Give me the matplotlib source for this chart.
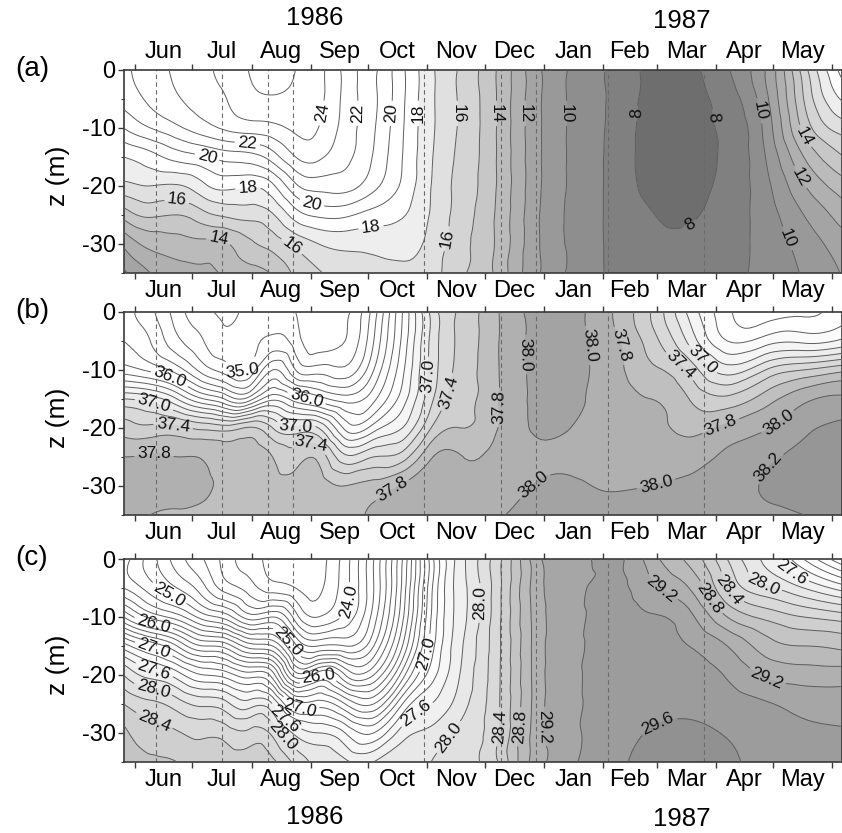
import numpy as np
import matplotlib
matplotlib.use('Agg')
import matplotlib.pyplot as plt
import matplotlib.tri as mtri

plt.rcParams['font.family'] = ['Liberation Sans', 'DejaVu Sans']
plt.rcParams['axes.unicode_minus'] = False

# ---------------- data ----------------
# time axis: days since 1986-06-01 ; depth axis: metres
days = [-6, 8, 22, 36, 48, 60, 72, 84, 96, 110, 125, 140, 155, 170,
        190, 210, 230, 250, 270, 290, 310, 330, 350, 371]
depths = [0, -5, -10, -15, -20, -25, -30, -35]

# (a) temperature profiles (one per time, values at depths above)
temp_profiles = [
    [21.8, 21.4, 20.0, 18.0, 16.7, 14.4, 12.2, 10.8],
    [22.5, 22.2, 21.0, 18.6, 17.0, 15.2, 13.3, 12.0],
    [23.2, 22.9, 21.8, 19.4, 16.9, 15.0, 13.6, 12.6],
    [23.8, 23.5, 22.6, 19.9, 17.8, 15.7, 13.7, 12.9],
    [24.3, 24.0, 23.2, 20.4, 18.3, 16.2, 13.9, 13.2],
    [25.05, 24.7, 23.5, 20.6, 18.1, 16.4, 14.8, 13.6],
    [25.6, 24.9, 23.7, 21.5, 18.8, 16.9, 15.4, 14.1],
    [25.0, 24.8, 24.2, 23.0, 20.8, 18.5, 16.3, 15.2],
    [24.3, 24.3, 24.0, 23.2, 21.4, 19.2, 17.0, 15.9],
    [22.7, 22.7, 22.6, 22.3, 21.4, 19.2, 17.3, 16.4],
    [21.2, 21.2, 21.1, 20.9, 20.3, 18.6, 17.3, 16.7],
    [19.2, 19.2, 19.1, 19.0, 18.8, 18.1, 17.3, 16.8],
    [17.2, 17.2, 17.2, 17.1, 17.0, 16.9, 16.7, 16.5],
    [15.9, 15.9, 15.9, 15.8, 15.7, 15.6, 15.4, 15.2],
    [13.9, 13.9, 13.9, 13.9, 13.9, 13.8, 13.8, 13.7],
    [11.3, 11.3, 11.3, 11.3, 11.3, 11.2, 11.2, 11.2],
    [9.8, 9.8, 9.8, 9.8, 9.8, 9.75, 9.75, 9.7],
    [8.8, 8.8, 8.75, 8.7, 8.7, 8.75, 8.8, 8.85],
    [7.75, 7.7, 7.65, 7.65, 7.75, 8.05, 8.25, 8.35],
    [7.75, 7.6, 7.55, 7.55, 7.65, 7.9, 8.2, 8.35],
    [8.9, 8.5, 8.25, 8.2, 8.3, 8.45, 8.6, 8.7],
    [11.0, 10.7, 10.3, 10.0, 9.7, 9.5, 9.35, 9.3],
    [15.5, 15.0, 14.3, 13.0, 11.9, 11.0, 10.4, 10.1],
    [19.5, 18.2, 16.5, 15.0, 13.6, 12.5, 11.6, 11.1],
]

# (b) salinity profiles
sal_profiles = [
    [35.7, 35.8, 36.1, 37.0, 37.5, 37.8, 37.88, 37.84],
    [35.45, 35.6, 35.95, 36.9, 37.45, 37.82, 37.9, 37.8],
    [35.1, 35.25, 35.7, 36.6, 37.45, 37.8, 37.88, 37.77],
    [34.85, 35.0, 35.3, 36.2, 37.35, 37.78, 37.84, 37.75],
    [34.75, 34.85, 35.1, 35.95, 37.3, 37.68, 37.75, 37.75],
    [34.9, 34.95, 35.05, 35.9, 37.42, 37.7, 37.72, 37.72],
    [34.95, 35.05, 35.6, 36.35, 37.2, 37.6, 37.68, 37.7],
    [34.8, 34.9, 35.2, 36.1, 37.05, 37.5, 37.68, 37.7],
    [34.65, 34.7, 35.1, 35.9, 37.0, 37.55, 37.7, 37.72],
    [34.75, 34.8, 35.05, 35.7, 36.35, 37.05, 37.6, 37.75],
    [35.3, 35.4, 35.6, 35.95, 36.5, 37.2, 37.68, 37.83],
    [36.2, 36.25, 36.35, 36.5, 36.8, 37.3, 37.82, 37.9],
    [37.05, 37.05, 37.07, 37.15, 37.4, 37.78, 37.86, 37.88],
    [37.43, 37.44, 37.46, 37.5, 37.6, 37.81, 37.86, 37.9],
    [37.79, 37.79, 37.79, 37.79, 37.8, 37.85, 37.9, 37.98],
    [38.06, 38.05, 38.04, 38.03, 38.02, 37.96, 38.01, 38.05],
    [38.05, 38.06, 38.05, 38.03, 37.99, 37.95, 38.02, 38.06],
    [37.8, 37.85, 37.88, 37.9, 37.92, 37.95, 37.99, 38.05],
    [37.4, 37.5, 37.65, 37.8, 37.87, 37.93, 38.0, 38.05],
    [36.75, 36.95, 37.35, 37.6, 37.75, 37.9, 38.04, 38.05],
    [36.25, 36.4, 36.9, 37.45, 37.85, 38.05, 38.1, 38.08],
    [36.1, 36.5, 37.2, 37.7, 37.98, 38.16, 38.22, 38.15],
    [36.15, 36.55, 37.4, 37.95, 38.15, 38.25, 38.27, 38.2],
    [36.35, 36.65, 37.55, 38.03, 38.26, 38.32, 38.32, 38.22],
]

# (c) density (sigma-t) profiles
sig_profiles = [
    [25.3, 25.4, 26.2, 27.3, 28.0, 28.4, 28.65, 28.8],
    [24.9, 25.1, 25.75, 26.95, 27.72, 28.25, 28.48, 28.62],
    [24.5, 24.8, 25.5, 26.6, 27.5, 28.1, 28.42, 28.6],
    [24.2, 24.45, 25.1, 26.2, 27.2, 27.95, 28.35, 28.55],
    [23.9, 24.1, 24.9, 26.1, 27.1, 27.85, 28.3, 28.55],
    [23.7, 23.9, 24.5, 25.7, 26.9, 27.7, 28.25, 28.5],
    [23.5, 23.7, 24.6, 25.6, 26.7, 27.6, 28.15, 28.45],
    [23.4, 23.6, 24.1, 24.85, 25.7, 26.9, 27.75, 28.15],
    [23.5, 23.55, 23.8, 24.6, 25.95, 26.9, 27.6, 27.95],
    [23.9, 23.92, 24.05, 24.6, 25.6, 26.6, 27.4, 27.85],
    [24.6, 24.6, 24.7, 25.0, 25.6, 26.4, 27.2, 27.8],
    [25.6, 25.65, 25.75, 26.0, 26.5, 27.2, 27.7, 27.95],
    [26.9, 26.95, 27.0, 27.1, 27.3, 27.6, 27.85, 28.0],
    [27.7, 27.7, 27.7, 27.75, 27.8, 27.9, 28.05, 28.15],
    [28.33, 28.33, 28.34, 28.35, 28.36, 28.37, 28.38, 28.4],
    [29.12, 29.1, 29.08, 29.08, 29.08, 29.08, 29.1, 29.1],
    [29.36, 29.36, 29.36, 29.37, 29.38, 29.38, 29.38, 29.38],
    [29.45, 29.46, 29.47, 29.48, 29.49, 29.5, 29.52, 29.55],
    [29.1, 29.25, 29.42, 29.48, 29.52, 29.56, 29.61, 29.65],
    [28.75, 29.0, 29.26, 29.4, 29.48, 29.56, 29.63, 29.66],
    [28.2, 28.4, 28.8, 29.2, 29.38, 29.5, 29.59, 29.62],
    [27.75, 28.05, 28.55, 28.9, 29.17, 29.42, 29.52, 29.56],
    [27.2, 27.8, 28.4, 28.8, 29.1, 29.33, 29.45, 29.5],
    [26.6, 27.5, 28.3, 28.75, 29.1, 29.3, 29.42, 29.48],
]

# sampling dates marked with dashed lines (days since 1986-06-01)
station_days = [11, 45.5, 69.6, 82.6, 151.1, 191.7, 210, 247.6, 297.6]

month_names = ['Jun', 'Jul', 'Aug', 'Sep', 'Oct', 'Nov', 'Dec',
               'Jan', 'Feb', 'Mar', 'Apr', 'May']
ytick_vals = [0, -10, -20, -30]

# contour label values and positions (value, day, depth)
temp_labels = [(24, 99, -7.5), (22, 119, -7.5), (20, 135, -7.5), (18, 146, -7.5),
               (16, 168, -7.5), (14, 189, -7.5), (12, 201, -7.5), (10, 224, -7.5),
               (8, 263, -7.5), (8, 305, -8), (10, 321, -7.5), (14, 353, -11),
               (12, 351, -18), (10, 342, -29), (8, 289, -26), (16, 161, -29),
               (18, 123, -26), (20, 93, -22.4), (16, 83, -30), (14, 44, -29),
               (18, 59, -20), (16, 22, -21), (20, 38, -14.7), (22, 59, -12)]
sal_labels = [(35.0, 56, -9.6), (36.0, 18, -11.6), (37.0, 11, -14.8), (37.4, 20, -19.7),
              (37.8, 10, -23.4), (36.0, 90, -14.5), (37.0, 84, -18.8), (37.4, 92, -22.3),
              (37.8, 132, -29.4), (37.0, 152, -11.1), (37.4, 168, -14.2), (37.8, 190, -16.5),
              (38.0, 202, -7.4), (38.0, 240, -5.7), (37.8, 255, -5.7), (37.4, 285, -9.4),
              (37.0, 299, -7.4), (37.8, 307, -20), (38.0, 336, -18.8), (38.2, 332, -27),
              (38.0, 203, -28), (38.0, 272, -28.8)]
sig_labels = [(25.0, 18, -5.9), (26.0, 9.5, -11.3), (27.0, 9.5, -15.9), (27.6, 9.5, -19.7),
              (28.0, 9.5, -22.5), (28.4, 10.5, -27.4), (25.0, 79, -14.5), (26.0, 96, -20.2),
              (27.0, 87, -24.3), (27.6, 78.5, -27.4), (28.0, 76, -30.9), (24.0, 109, -7.3),
              (27.0, 152, -16.2), (27.6, 148, -27), (28.0, 181, -7.6), (28.0, 161, -29.9),
              (28.4, 187, -28.9), (28.8, 200, -28.9), (29.2, 214, -28.9), (29.2, 274.5, -5.6),
              (28.8, 300, -7), (28.4, 312, -5), (28.0, 328, -5), (27.6, 340, -4.2),
              (29.2, 331, -20.3), (29.6, 275.5, -29.9)]

# ---------------- styles ----------------
panels = [
    dict(name='(a)', prof=temp_profiles, labels=temp_labels, fmt='%d',
         fill_levels=[0, 8, 9, 10, 11, 12, 13, 14, 15, 16, 17, 18, 40],
         fill_grays=[0.43, 0.50, 0.555, 0.60, 0.645, 0.69, 0.735, 0.78, 0.83, 0.88, 0.935, 1.0],
         line_levels=np.arange(8, 27, 1.0), top=0.916),
    dict(name='(b)', prof=sal_profiles, labels=sal_labels, fmt='%.1f',
         fill_levels=[30, 36.4, 36.6, 36.8, 37.0, 37.2, 37.4, 37.6, 37.8, 38.0, 38.2, 40],
         fill_grays=[1.0, 0.98, 0.96, 0.93, 0.89, 0.85, 0.81, 0.75, 0.69, 0.64, 0.59],
         line_levels=np.round(np.arange(34.8, 38.3, 0.2), 1), top=0.6255),
    dict(name='(c)', prof=sig_profiles, labels=sig_labels, fmt='%.1f',
         fill_levels=[20, 27.4, 27.6, 27.8, 28.0, 28.2, 28.4, 28.6, 28.8, 29.0, 29.2, 29.4, 29.6, 32],
         fill_grays=[1.0, 0.97, 0.94, 0.91, 0.88, 0.85, 0.81, 0.77, 0.73, 0.69, 0.65, 0.61, 0.57],
         line_levels=np.round(np.arange(23.6, 29.7, 0.2), 1), top=0.3289),
]

W, H = 842, 833
fig = plt.figure(figsize=(W / 100, H / 100), dpi=100)

months = np.arange(np.datetime64('1986-06'), np.datetime64('1987-07'), dtype='datetime64[M]')
month_start = (months.astype('datetime64[D]') - np.datetime64('1986-06-01')).astype(float)
month_mid = (month_start[:-1] + month_start[1:]) / 2

# triangulated grid (scaled to roughly isotropic screen units for the smoother)
xd = np.array(days, float)
zd = np.array(depths, float)
X, Y = np.meshgrid(xd, zd)
sx, sz = 1.912, 5.8
nz, nx = X.shape
tris = []
for r in range(nz - 1):
    for c in range(nx - 1):
        a = r * nx + c
        tris.append([a, a + 1, a + nx])
        tris.append([a + 1, a + nx + 1, a + nx])
tri_s = mtri.Triangulation(X.ravel() * sx, Y.ravel() * sz, np.array(tris))
refiner = mtri.UniformTriRefiner(tri_s)

ax_h = 0.2435
x0 = 124 / W
ax_w = 717.5 / W
spine_c = '#3a3a3a'
line_c = '#5e5e5e'
line_w = 0.7

for i, p in enumerate(panels):
    ax = fig.add_axes([x0, p['top'] - ax_h, ax_w, ax_h])
    Z = np.array(p['prof']).T.ravel()
    interp = mtri.CubicTriInterpolator(tri_s, Z, kind='min_E')
    tr, zr = refiner.refine_field(Z, triinterpolator=interp, subdiv=3)
    tri = mtri.Triangulation(tr.x / sx, tr.y / sz, tr.triangles)
    ax.tricontourf(tri, zr, levels=p['fill_levels'],
                   colors=[str(g) for g in p['fill_grays']])
    for d in station_days:
        ax.axvline(d, color='#6a6a6a', lw=0.8, ls=(0, (4, 3)), zorder=2)
    lab_vals = sorted(set(v for v, _, _ in p['labels']))
    base = [l for l in p['line_levels'] if not any(abs(l - v) < 1e-6 for v in lab_vals)]
    ax.tricontour(tri, zr, levels=base, colors=line_c, linewidths=line_w, zorder=3)
    for v in lab_vals:
        csv = ax.tricontour(tri, zr, levels=[v], colors=line_c, linewidths=line_w, zorder=3)
        pos = [(dx, dz) for vv, dx, dz in p['labels'] if abs(vv - v) < 1e-6]
        try:
            ax.clabel(csv, manual=pos, fmt=p['fmt'], fontsize=12.5, inline=True,
                      inline_spacing=3, colors='#111111')
        except Exception:
            pass
    ax.set_xlim(-5.75, 369.8)
    ax.set_ylim(-35, 0)
    ax.set_xticks(month_start)
    ax.set_xticklabels([])
    ax.set_xticks(month_mid, minor=True)
    ax.set_xticklabels(month_names, minor=True)
    ax.set_yticks(ytick_vals)
    ax.set_yticklabels([str(v) for v in ytick_vals])
    ax.set_yticks([-5, -15, -25, -35], minor=True)
    ax.tick_params(axis='x', which='major', direction='out', length=4, width=1,
                   color=spine_c, top=True, bottom=True)
    ax.tick_params(axis='x', which='minor', length=0, labelsize=17, pad=5,
                   top=False, bottom=False, labeltop=(i == 0), labelbottom=True)
    ax.tick_params(axis='y', which='major', direction='out', length=4, width=1,
                   color=spine_c, labelsize=17, pad=2)
    ax.tick_params(axis='y', which='minor', direction='out', length=2.5, width=0.8,
                   color=spine_c)
    for s in ax.spines.values():
        s.set_color(spine_c)
        s.set_linewidth(1.2)
    fig.text(32 / W, p['top'] + 0.001, p['name'], ha='center', va='center', fontsize=20)
    fig.text(58 / W, p['top'] - ax_h / 2 - 0.005, 'z (m)', ha='center', va='center',
             rotation=90, fontsize=19)

fig.text(315 / W, 1 - 18 / H, '1986', ha='center', va='center', fontsize=18.5)
fig.text(682 / W, 1 - 21 / H, '1987', ha='center', va='center', fontsize=18.5)
fig.text(315 / W, 1 - 817 / H, '1986', ha='center', va='center', fontsize=18.5)
fig.text(682 / W, 1 - 819 / H, '1987', ha='center', va='center', fontsize=18.5)

fig.savefig('out.png', dpi=100, facecolor='white')
